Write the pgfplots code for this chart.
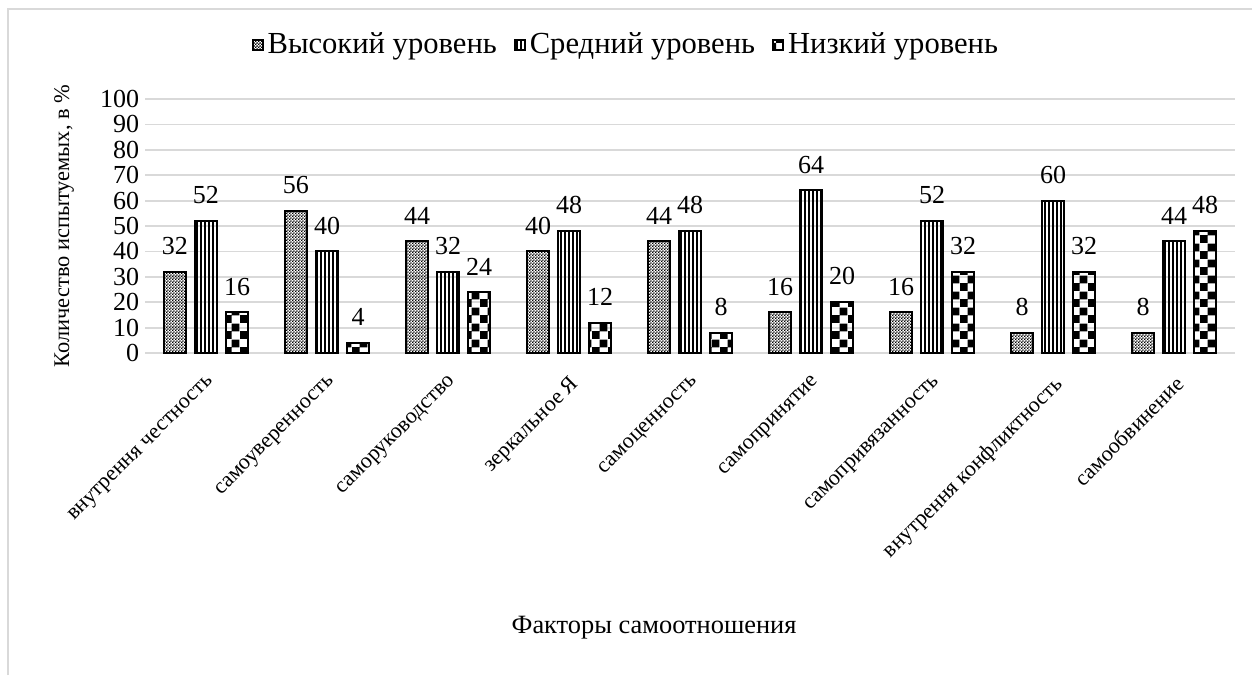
\documentclass[border=0pt]{standalone}
\usepackage{fontspec}
\setmainfont{Liberation Serif}
\usepackage{pgfplots}
\pgfplotsset{compat=1.18}
\usetikzlibrary{patterns}

\pgfdeclarepatternformonly{finecheck}{\pgfpointorigin}{\pgfqpoint{1.6pt}{1.6pt}}{\pgfqpoint{1.6pt}{1.6pt}}{%
 \pgfpathrectangle{\pgfpointorigin}{\pgfqpoint{0.85pt}{0.85pt}}%
 \pgfpathrectangle{\pgfqpoint{0.8pt}{0.8pt}}{\pgfqpoint{0.85pt}{0.85pt}}%
 \pgfusepath{fill}}
\pgfdeclarepatternformonly{vlines}{\pgfpointorigin}{\pgfqpoint{2pt}{60pt}}{\pgfqpoint{2pt}{60pt}}{%
 \pgfpathrectangle{\pgfqpoint{0pt}{-1pt}}{\pgfqpoint{1.1pt}{62pt}}%
 \pgfusepath{fill}}
\pgfdeclarepatternformonly{bigcheck}{\pgfpointorigin}{\pgfqpoint{8pt}{8pt}}{\pgfqpoint{8pt}{8pt}}{%
 \pgfpathrectangle{\pgfpointorigin}{\pgfqpoint{4.1pt}{4.1pt}}%
 \pgfpathrectangle{\pgfqpoint{4pt}{4pt}}{\pgfqpoint{4.1pt}{4.1pt}}%
 \pgfusepath{fill}}

\definecolor{gridgray}{HTML}{D9D9D9}

\begin{document}
\begin{tikzpicture}
\useasboundingbox (0,0) rectangle (626pt,337.5pt);
\draw[gridgray, line width=1pt] (4pt,0) -- (4pt,333pt) -- (626pt,333pt);
\begin{axis}[
  at={(72.75pt,161pt)}, anchor=south west,
  scale only axis, width=544.5pt, height=127pt,
  ybar=4.5pt, bar width=11pt,
  xmin=-0.5, xmax=8.5, ymin=0, ymax=100,
  xtick={0,...,8},
  xticklabels={внутрення честность, самоуверенность, саморуководство, зеркальное Я, самоценность, самопринятие, самопривязанность, внутрення конфликтность, самообвинение},
  ytick={0,10,...,100},
  axis line style={draw=none},
  major tick length=0pt,
  ymajorgrids, grid style={gridgray, line width=0.9pt},
  /pgf/number format/assume math mode=true,
  x tick label style={xshift=0pt, yshift=-10.5pt, rotate=45, anchor=north east, inner sep=0pt, font=\fontsize{11}{13}\selectfont},
  y tick label style={inner sep=3pt, font=\fontsize{13}{15}\selectfont},
  xlabel={Факторы самоотношения},
  xlabel style={at={(axis description cs:0.467,-1.083)}, anchor=center, font=\fontsize{13.2}{15}\selectfont},
  ylabel={Количество испытуемых, в \%},
  ylabel style={at={(axis description cs:-0.0748,0.5)}, anchor=center, font=\fontsize{11.2}{13}\selectfont},
  legend style={at={(0.442,1.213)}, anchor=center, draw=none, legend columns=3,
    font=\fontsize{15.3}{17}\selectfont,
    /tikz/every even column/.append style={column sep=6.5pt},
    /tikz/every odd column/.append style={column sep=0pt}},
  legend image code/.code={\draw[#1] (0pt,-2.5pt) rectangle (5pt,2.5pt);},
  nodes near coords,
  every node near coord/.append style={anchor=south, inner sep=0pt, yshift=8pt, black, font=\fontsize{13}{15}\selectfont},
]
\addplot[draw=black, line width=1pt, pattern=finecheck] coordinates {(0,32) (1,56) (2,44) (3,40) (4,44) (5,16) (6,16) (7,8) (8,8)};
\addlegendentry{Высокий уровень}
\addplot[draw=black, line width=1pt, pattern=vlines] coordinates {(0,52) (1,40) (2,32) (3,48) (4,48) (5,64) (6,52) (7,60) (8,44)};
\addlegendentry{Средний уровень}
\addplot[draw=black, line width=1pt, pattern=bigcheck] coordinates {(0,16) (1,4) (2,24) (3,12) (4,8) (5,20) (6,32) (7,32) (8,48)};
\addlegendentry{Низкий уровень}
\end{axis}
\end{tikzpicture}
\end{document}
